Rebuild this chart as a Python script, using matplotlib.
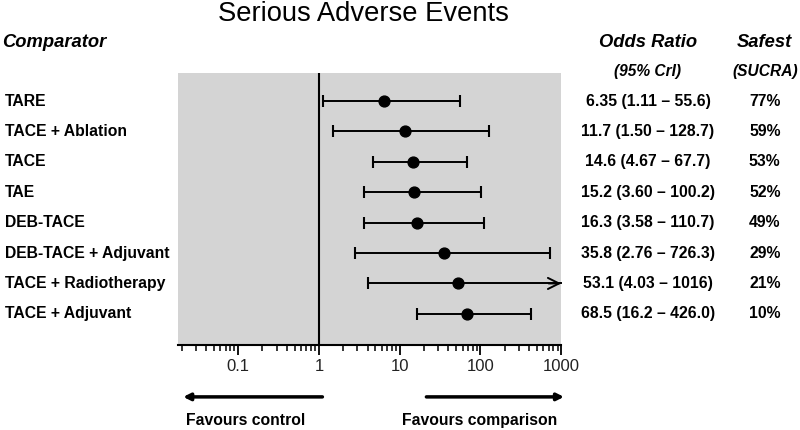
import matplotlib.pyplot as plt
import matplotlib.transforms as mtransforms
from matplotlib.ticker import LogLocator, NullFormatter

plt.rcParams['font.family'] = ['Liberation Sans', 'DejaVu Sans']

# data
comparators = ['TARE', 'TACE + Ablation', 'TACE', 'TAE', 'DEB-TACE',
               'DEB-TACE + Adjuvant', 'TACE + Radiotherapy', 'TACE + Adjuvant']
odds = [6.35, 11.7, 14.6, 15.2, 16.3, 35.8, 53.1, 68.5]
lower = [1.11, 1.50, 4.67, 3.60, 3.58, 2.76, 4.03, 16.2]
upper = [55.6, 128.7, 67.7, 100.2, 110.7, 726.3, 1016, 426.0]
or_labels = ['6.35 (1.11 \u2013 55.6)', '11.7 (1.50 \u2013 128.7)', '14.6 (4.67 \u2013 67.7)',
             '15.2 (3.60 \u2013 100.2)', '16.3 (3.58 \u2013 110.7)', '35.8 (2.76 \u2013 726.3)',
             '53.1 (4.03 \u2013 1016)', '68.5 (16.2 \u2013 426.0)']
sucra = ['77%', '59%', '53%', '52%', '49%', '29%', '21%', '10%']
tick_vals = [0.1, 1, 10, 100, 1000]
tick_labels = ['0.1', '1', '10', '100', '1000']

xmin, xmax = 0.018, 1000

fig = plt.figure(figsize=(8, 4.3), dpi=100)
ax = fig.add_axes([0.2225, 0.198, 0.479, 0.632])
ax.set_facecolor('#d4d4d4')
ax.set_xscale('log')
ax.set_xlim(xmin, xmax)
ys = list(range(1, len(comparators) + 1))
ax.set_ylim(9.02, 0.08)

ax.axvline(1, color='black', lw=1.5, zorder=2)

for y, m, lo, hi in zip(ys, odds, lower, upper):
    hi_c = min(hi, xmax)
    ax.plot([lo, hi_c], [y, y], color='black', lw=1.4, zorder=3, clip_on=False)
    ax.plot([lo], [y], marker='|', ms=8, mew=1.5, color='black', zorder=3)
    if hi <= xmax:
        ax.plot([hi], [y], marker='|', ms=8, mew=1.5, color='black', zorder=3)
    else:
        ax.annotate('', xy=(xmax, y), xytext=(xmax * 0.7, y),
                    arrowprops=dict(arrowstyle='->', lw=1.4, color='black',
                                    mutation_scale=20, shrinkA=0, shrinkB=0),
                    annotation_clip=False, zorder=3)
    ax.plot([m], [y], marker='o', ms=7.8, color='black', zorder=4)

for s in ['top', 'right', 'left']:
    ax.spines[s].set_visible(False)
ax.spines['bottom'].set_linewidth(1.5)
ax.set_yticks([])
ax.set_xticks(tick_vals)
ax.set_xticklabels(tick_labels)
ax.xaxis.set_minor_locator(LogLocator(base=10, subs=range(2, 10), numticks=20))
ax.xaxis.set_minor_formatter(NullFormatter())
ax.tick_params(axis='x', which='major', length=7, width=1.3, labelsize=12,
               labelcolor='#222222', pad=3)
ax.tick_params(axis='x', which='minor', length=4.5, width=1.1)

# text columns
tr = mtransforms.blended_transform_factory(fig.transFigure, ax.transData)
for y, name, lab, s in zip(ys, comparators, or_labels, sucra):
    fig.text(0.006, y, name, transform=tr, ha='left', va='center',
             fontsize=11.3, fontweight='bold')
    fig.text(0.81, y, lab, transform=tr, ha='center', va='center',
             fontsize=11.3, fontweight='bold')
    fig.text(0.956, y, s, transform=tr, ha='center', va='center',
             fontsize=11.3, fontweight='bold')

fig.text(0.454, 0.951, 'Serious Adverse Events', ha='center', va='baseline', fontsize=19.7)
fig.text(0.003, 0.902, 'Comparator', ha='left', va='center', fontsize=13.2,
         fontweight='bold', style='italic')
fig.text(0.81, 0.902, 'Odds Ratio', ha='center', va='center', fontsize=13.2,
         fontweight='bold', style='italic')
fig.text(0.956, 0.902, 'Safest', ha='center', va='center', fontsize=13.2,
         fontweight='bold', style='italic')
fig.text(0.81, 0.834, '(95% CrI)', ha='center', va='center', fontsize=11.2,
         fontweight='bold', style='italic')
fig.text(0.956, 0.834, '(SUCRA)', ha='center', va='center', fontsize=11.2,
         fontweight='bold', style='italic')

# direction arrows
ax.annotate('', xy=(0.229, 0.077), xytext=(0.403, 0.077), xycoords='figure fraction',
            textcoords='figure fraction',
            arrowprops=dict(arrowstyle='-|>', lw=2.5, color='black', mutation_scale=10,
                            shrinkA=0, shrinkB=0))
ax.annotate('', xy=(0.705, 0.077), xytext=(0.533, 0.077), xycoords='figure fraction',
            textcoords='figure fraction',
            arrowprops=dict(arrowstyle='-|>', lw=2.5, color='black', mutation_scale=10,
                            shrinkA=0, shrinkB=0))
fig.text(0.233, 0.023, 'Favours control', ha='left', va='center', fontsize=11.3,
         fontweight='bold')
fig.text(0.503, 0.023, 'Favours comparison', ha='left', va='center', fontsize=11.3,
         fontweight='bold')

fig.savefig('out.png', dpi=100)
